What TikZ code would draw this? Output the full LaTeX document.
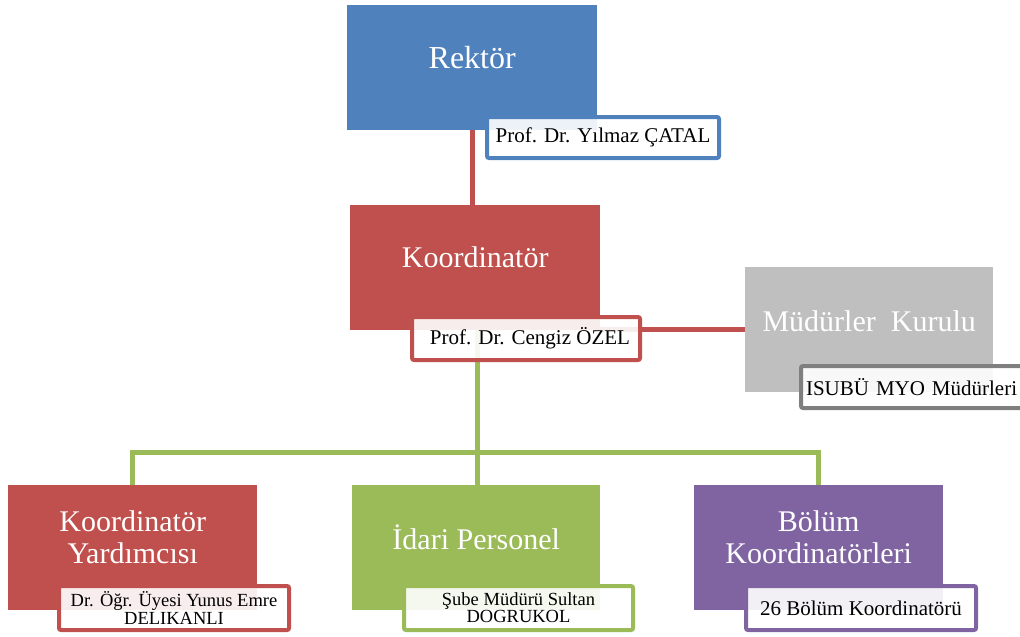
\documentclass[tikz,border=0pt]{standalone}
\usepackage{fontspec}
\setmainfont{Liberation Serif}
\usetikzlibrary{backgrounds}
\definecolor{rektorblue}{HTML}{4F81BD}
\definecolor{koordred}{HTML}{C0504D}
\definecolor{idarigreen}{HTML}{9BBB59}
\definecolor{bolumpurple}{HTML}{8064A2}
\definecolor{mudgray}{HTML}{BFBFBF}
\definecolor{mudborder}{HTML}{7F7F7F}
\tikzset{
  unit/.style={fill=#1, minimum width=249pt, minimum height=125pt, anchor=north west, inner sep=0pt},
  unittitle/.style={text=white, font=\fontsize{30}{32}\selectfont, align=center},
  namebox/.style={draw=#1, line width=4pt, rounded corners=2pt, fill=white, fill opacity=0.9, text opacity=1,
    anchor=north west, inner sep=2pt, minimum width=230pt, minimum height=43pt, align=center,
    font=\fontsize{21}{22}\selectfont},
  smallname/.style={font=\fontsize{18.5}{15}\selectfont},
  redline/.style={draw=koordred, line width=5pt},
  greenline/.style={draw=idarigreen, line width=5pt}
}
\begin{document}
\begin{tikzpicture}[x=1pt,y=-1pt]
\useasboundingbox (0,0) rectangle (1020,637);
\coordinate (bus) at (477,452);
\node[unit=rektorblue, minimum width=250pt] (rektor) at (347,5) {};
\node[unit=koordred, minimum width=250pt] (koord) at (350,205) {};
\node[unit=mudgray, minimum width=248pt] (mud) at (745,267) {};
\node[unit=koordred] (yard) at (8,485) {};
\node[unit=idarigreen, minimum width=248pt] (idari) at (352,485) {};
\node[unit=bolumpurple] (bolum) at (694,485) {};
\begin{scope}[on background layer]
\draw[redline] (rektor.south) -- (rektor.south |- koord.north);
\draw[redline] (mud.west -| koord.east) -- (mud.west);
\draw[greenline] (bus |- koord.south) -- (bus);
\draw[greenline] (yard.north) |- (bus) -| (bolum.north);
\draw[greenline] (bus) -- (bus |- idari.north);
\end{scope}
\node[unittitle, font=\fontsize{32}{34}\selectfont] (rektortitle) at ([yshift=10pt]rektor.center) {Rektör};
\node[unittitle] (koordtitle) at ([yshift=10pt]koord.center) {Koordinatör};
\node[unittitle] (mudtitle) at ([yshift=8pt]mud.center) {Müdürler\ \ Kurulu};
\node[unittitle] (yardtitle) at ([yshift=10pt]yard.center) {Koordinatör\\Yardımcısı};
\node[unittitle] (idarititle) at ([yshift=10pt]idari.center) {İdari Personel};
\node[unittitle] (bolumtitle) at ([yshift=10pt]bolum.center) {Bölüm\\Koordinatörleri};
\node[namebox=rektorblue, minimum width=232pt, minimum height=41pt] (rektorname) at (485,115) {Prof. Dr. Yılmaz ÇATAL};
\node[namebox=koordred, minimum width=228pt] (koordname) at (410,315) {\hspace*{8pt}Prof. Dr. Cengiz ÖZEL};
\node[namebox=mudborder, minimum width=260pt, minimum height=42pt, text width=250pt, align=left] (mudname) at (799,364) {ISUBÜ MYO Müdürleri};
\node[namebox=koordred, smallname, minimum height=44pt] (yardname) at (57,584) {Dr. Öğr. Üyesi Yunus Emre\\DELIKANLI};
\node[namebox=idarigreen, smallname, minimum width=229pt, minimum height=44pt] (idariname) at (402,584) {Şube Müdürü Sultan\\DOGRUKOL};
\node[namebox=bolumpurple, minimum height=44pt] (bolumname) at (744,584) {26 Bölüm Koordinatörü};
\end{tikzpicture}
\end{document}
